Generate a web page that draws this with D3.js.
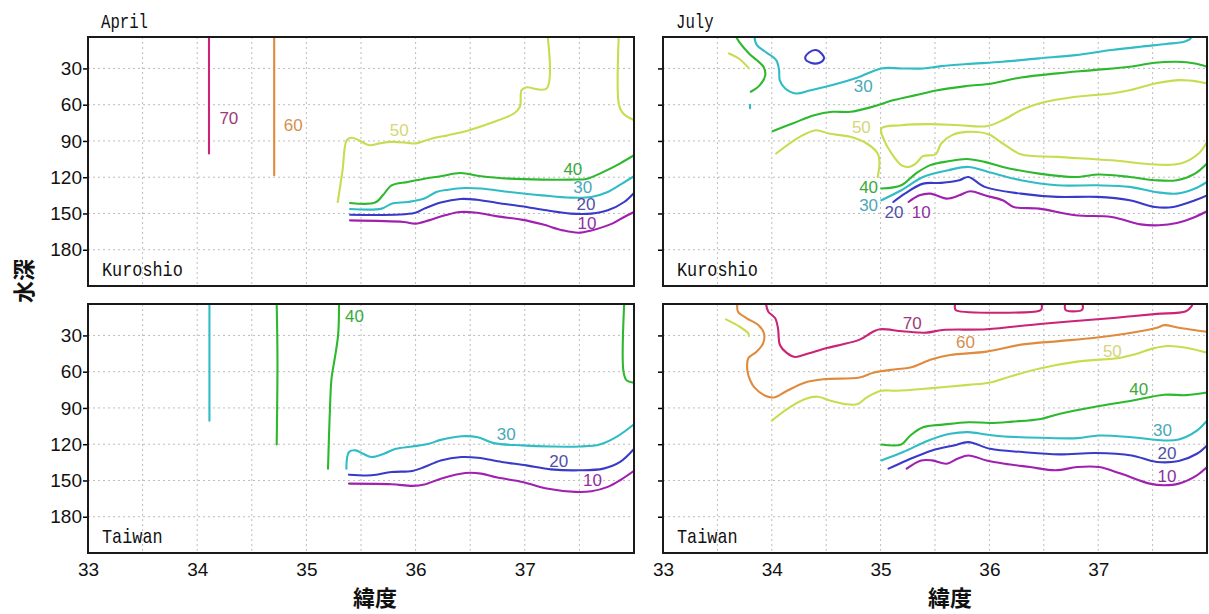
<!DOCTYPE html>
<html>
<head>
<meta charset="utf-8">
<script src="https://cdn.jsdelivr.net/npm/d3@7"></script>
<style>
  body { margin: 0; background: #fff; }
  svg { display: block; }
</style>
</head>
<body>
<svg id="chart" width="1209" height="614"></svg>
<script>
// ---- axes ----
const latDomain = [33, 38];
const depthDomain = [4, 210];
const latTicks = [33, 34, 35, 36, 37];
const depthTicks = [30, 60, 90, 120, 150, 180];
const gridLats = [33.5, 34, 34.5, 35, 35.5, 36, 36.5, 37, 37.5];

// ---- contour levels ----
const levels = [70, 60, 50, 40, 30, 20, 10];

// ---- April, Kuroshio: [latitude, depth] ----
const ak70 = [[34.108, 4], [34.108, 100.4]];
const ak60 = [[34.705, 4], [34.705, 118.4]];
const ak50a = [[35.287, 140.5], [35.33, 115], [35.37, 89.4], [35.414, 87.4], [35.48, 89.4], [35.575, 93.5], [35.67, 92], [35.78, 90.8], [35.93, 91.6], [36.0, 92.1], [36.15, 88], [36.30, 85.2], [36.49, 81.1], [36.675, 75.6], [36.90, 67.3], [36.955, 61.8], [36.97, 48], [37.01, 45.7], [37.2, 46.6], [37.21, 4]];
const ak50b = [[37.86, 4], [37.86, 59], [37.89, 66], [37.93, 69.5], [38.0, 72.8]];
const ak40 = [[35.40, 141.3], [35.63, 141], [35.70, 135], [35.78, 126.7], [35.93, 123.9], [36.08, 121.2], [36.23, 119.2], [36.41, 116.5], [36.60, 119.2], [36.86, 121.2], [37.16, 122], [37.42, 122], [37.57, 121.2], [37.72, 115.6], [37.87, 108.7], [38.0, 101.8]];
const ak30 = [[35.40, 146.3], [35.69, 146], [35.78, 141.9], [35.93, 140.5], [36.08, 137.7], [36.19, 132.2], [36.30, 130.3], [36.45, 128.9], [36.60, 129.4], [36.86, 132.2], [37.16, 135], [37.42, 136.9], [37.61, 136.3], [37.76, 132.2], [37.89, 125.3], [38.0, 119.2]];
const ak20 = [[35.40, 151], [35.99, 149.6], [36.08, 146], [36.23, 141], [36.41, 138], [36.56, 138.6], [36.75, 141.3], [36.97, 144], [37.20, 147.4], [37.42, 150.1], [37.61, 150.1], [37.76, 147.4], [37.91, 140.5], [38.0, 133]];
const ak10 = [[35.40, 155.7], [35.89, 157], [36.0, 158.4], [36.12, 155.7], [36.27, 151.5], [36.41, 148.8], [36.56, 149.4], [36.75, 152.4], [36.97, 155.1], [37.16, 159], [37.35, 164], [37.49, 165.9], [37.61, 164], [37.80, 158.4], [37.91, 152.9], [38.0, 148.8]];
const akLabels = [[34.29, 71.4, 70], [34.88, 77, 60], [35.85, 81.6, 50], [37.44, 113.5, 40], [37.53, 128.6, 30], [37.56, 142.4, 20], [37.57, 157.9, 10]];

// ---- July, Kuroshio ----
const jk50a = [[33.607, 17.6], [33.70, 22], [33.79, 30]];
const jk40a = [[33.673, 4], [33.70, 8], [33.79, 17.6], [33.923, 28.6], [33.94, 35.5], [33.89, 43.8], [33.807, 49.3]];
const jk30tick = [[33.80, 60], [33.80, 63]];
const jk30a = [[33.84, 4], [33.863, 10.7], [33.94, 16.2], [34.04, 23.1], [34.067, 31.4], [34.073, 39.7], [34.123, 46.6], [34.223, 50.7], [34.357, 48], [34.557, 43.8], [34.79, 37.5], [35.007, 30], [35.19, 30], [35.39, 30], [35.557, 28.1], [35.79, 26.4], [36.123, 24.5], [36.457, 21.7], [36.79, 19], [37.123, 14.8], [37.39, 12], [37.623, 9.8], [37.79, 7.9], [37.84, 6], [37.857, 4]];
const jk20loop = [[34.307, 21.7], [34.34, 17], [34.407, 14.8], [34.457, 17.6], [34.48, 21.7], [34.44, 25.3], [34.357, 25.3]];
const jk40b = [[34.007, 81.9], [34.19, 75.6], [34.39, 68.7], [34.557, 65.9], [34.723, 65.9], [34.923, 61.8], [35.123, 56.2], [35.323, 52.1], [35.523, 48], [35.79, 44.6], [36.023, 42.4], [36.29, 37.5], [36.623, 34.1], [36.957, 31.4], [37.29, 28.6], [37.523, 25.3], [37.723, 24.5], [37.89, 25.9], [38.0, 28.6]];
const jk50b = [[34.04, 100.4], [34.257, 86.6], [34.407, 81.1], [34.523, 83.9], [34.723, 86.6], [34.873, 92.1], [34.973, 100.4], [34.99, 108], [34.973, 119.8]];
const jk50c = [[38.0, 90.8], [37.923, 100.4], [37.757, 108.7], [37.523, 109.5], [37.123, 106], [36.623, 103.2], [36.29, 101], [36.123, 92.1], [35.99, 84.4], [35.79, 82.5], [35.657, 85.2], [35.557, 92.1], [35.507, 101], [35.39, 102.6], [35.323, 108.7], [35.257, 111.5], [35.19, 110], [35.123, 103.2], [35.04, 90.8], [35.007, 79.7], [35.19, 77], [35.457, 76.1], [35.723, 77], [35.973, 77.8], [36.123, 72.8], [36.29, 64.5], [36.457, 59], [36.79, 53.5], [37.123, 50.7], [37.29, 48], [37.523, 42.4], [37.757, 39.7], [37.923, 41], [38.0, 42.4]];
const jk40c = [[35.007, 129.4], [35.19, 126.7], [35.323, 117], [35.457, 110], [35.623, 106.8], [35.79, 104.9], [35.957, 107.3], [36.123, 111.5], [36.457, 117], [36.79, 119.8], [37.007, 117.8], [37.29, 119.8], [37.523, 122.5], [37.723, 122.5], [37.89, 117], [38.0, 108.7]];
const jk30b = [[35.007, 139.1], [35.19, 130.8], [35.39, 119.8], [35.623, 114.2], [35.807, 111.5], [35.99, 115.6], [36.29, 122.5], [36.623, 126.7], [36.99, 126.7], [37.29, 128], [37.523, 132.2], [37.723, 133.6], [37.89, 129.4], [38.0, 123.9]];
const jk20 = [[35.117, 140.5], [35.223, 133.6], [35.39, 125.3], [35.557, 124.7], [35.723, 122.5], [35.807, 119.8], [35.957, 128], [36.29, 133.6], [36.623, 136.3], [36.99, 136.3], [37.29, 139.1], [37.523, 144.6], [37.69, 144.6], [37.89, 139.1], [38.0, 135]];
const jk10 = [[35.257, 140.5], [35.357, 135], [35.457, 133.6], [35.607, 137.7], [35.723, 135], [35.823, 131.6], [35.957, 135], [36.123, 139.1], [36.223, 144.6], [36.457, 146], [36.79, 151.5], [37.123, 152.9], [37.39, 159], [37.557, 159.8], [37.723, 157.9], [37.89, 152.9], [38.0, 148.2]];
const jkLabels = [[34.84, 45.3, 30], [34.823, 79.2, 50], [34.89, 128.6, 40], [34.89, 143.2, 30], [35.123, 148.8, 20], [35.373, 148.8, 10]];

// ---- April, Taiwan ----
const at30v = [[34.112, 4], [34.112, 100.5]];
const at40v1 = [[34.728, 4], [34.735, 50], [34.728, 120.2]];
const at40v2 = [[35.299, 4], [35.291, 29.2], [35.261, 48.4], [35.231, 64.8], [35.216, 89.5], [35.198, 140.2]];
const at40v3 = [[37.91, 4], [37.903, 59.3], [37.93, 67], [37.985, 68.9], [38.0, 69]];
const at30 = [[35.366, 140.2], [35.39, 126.5], [35.45, 125.1], [35.52, 127.9], [35.597, 130.6], [35.709, 127.9], [35.82, 123.8], [35.97, 121.9], [36.12, 119.7], [36.23, 116.4], [36.42, 113.4], [36.57, 114.2], [36.716, 119.1], [36.978, 121], [37.24, 121.9], [37.50, 121.9], [37.687, 120.2], [37.836, 114.2], [38.0, 103.5]];
const at20 = [[35.39, 145.2], [35.597, 145.7], [35.78, 143], [35.97, 142.1], [36.08, 138.9], [36.23, 133.4], [36.42, 130.6], [36.57, 131.2], [36.79, 134.7], [37.015, 137.5], [37.24, 140.8], [37.50, 141.6], [37.72, 140.2], [37.873, 134.7], [38.0, 124]];
const at10 = [[35.39, 152.6], [35.78, 153.1], [35.97, 154.5], [36.08, 153.4], [36.23, 148.5], [36.455, 143.8], [36.60, 144.3], [36.75, 147.6], [36.978, 151.2], [37.20, 156.7], [37.46, 159.4], [37.61, 158.9], [37.76, 155.3], [37.873, 149.8], [38.0, 142]];
const atLabels = [[35.44, 14.1, 40], [36.83, 112, 30], [37.31, 133.9, 20], [37.62, 150.4, 10]];

// ---- July, Taiwan ----
const jt70a = [[33.947, 4], [33.968, 10.4], [34.03, 15.6], [34.057, 24.1], [34.075, 37.9], [34.137, 44.5], [34.213, 47.8], [34.32, 45.4], [34.505, 40.4], [34.627, 37.9], [34.807, 33.5], [34.93, 26.9], [34.995, 24.9], [35.2, 26.5], [35.42, 27.7], [35.57, 25.5], [35.975, 24.9], [36.465, 20.5], [37.11, 15.8], [37.307, 14.1], [37.54, 12.2], [37.807, 10], [37.857, 5.9], [37.867, 4]];
const jt70b = [[35.684, 4], [35.684, 8], [35.70, 9.5], [36.46, 9.5], [36.48, 8], [36.48, 4]];
const jt70c = [[36.695, 4], [36.695, 8], [36.71, 9.5], [36.84, 9.5], [36.857, 8], [36.857, 4]];
const jt60 = [[33.683, 4], [33.69, 10.4], [33.77, 15.8], [33.876, 21.4], [33.928, 28.2], [33.92, 36.5], [33.86, 43.5], [33.784, 48.9], [33.775, 58.6], [33.80, 66.9], [33.84, 73], [33.94, 79.9], [34.023, 81.3], [34.14, 75.8], [34.307, 68.9], [34.473, 66.2], [34.807, 64.8], [34.94, 60.7], [35.14, 58], [35.273, 56.6], [35.473, 49.7], [35.64, 46.2], [35.973, 43.4], [36.307, 37.4], [36.64, 34.7], [36.973, 31.9], [37.307, 27.8], [37.54, 23.7], [37.607, 21.5], [37.74, 23.7], [37.907, 25.9], [38.0, 27]];
const jt50a = [[33.579, 16.7], [33.70, 22.5], [33.784, 28.3], [33.79, 30.5]];
const jt50b = [[34.0, 100.5], [34.14, 90.9], [34.307, 82.6], [34.423, 80.7], [34.54, 84], [34.673, 86.8], [34.79, 86.8], [34.873, 81.3], [35.007, 75.8], [35.14, 75.8], [35.473, 73.6], [35.807, 70.9], [36.007, 68.9], [36.207, 63.5], [36.473, 57.1], [36.807, 51.7], [37.207, 48.4], [37.34, 45.6], [37.507, 40.7], [37.64, 38.8], [37.807, 40.2], [38.0, 44.3]];
const jt40 = [[35.007, 120.2], [35.19, 120.2], [35.273, 112.8], [35.39, 106], [35.573, 103.8], [35.807, 101.8], [36.007, 102.4], [36.207, 101.3], [36.473, 99.1], [36.64, 95], [36.973, 89], [37.307, 84], [37.607, 79.1], [37.807, 79.4], [38.0, 77.2]];
const jt30 = [[35.007, 133.4], [35.207, 126.5], [35.44, 116.9], [35.64, 111.4], [35.807, 110], [35.973, 112], [36.14, 113.6], [36.473, 114.7], [36.807, 115], [37.007, 112.8], [37.307, 114.2], [37.607, 116.9], [37.74, 116.1], [37.907, 108.7], [38.0, 100.5]];
const jt20 = [[35.073, 140.2], [35.24, 133.4], [35.473, 125.1], [35.673, 121], [35.807, 118.3], [36.007, 123.8], [36.307, 126.5], [36.64, 128.4], [36.973, 127.3], [37.307, 129.3], [37.54, 134.7], [37.74, 133.9], [37.907, 127.9], [38.0, 121]];
const jt10 = [[35.24, 140.2], [35.373, 133.4], [35.473, 133.4], [35.607, 136.1], [35.707, 132], [35.807, 129.3], [35.973, 133.4], [36.14, 136.1], [36.373, 138.9], [36.607, 141.6], [36.807, 138.9], [37.007, 138.9], [37.207, 144.3], [37.473, 152.6], [37.607, 153.9], [37.74, 152.6], [37.907, 145.7], [38.0, 138.9]];
const jtLabels = [[35.29, 20.5, 70], [35.78, 36, 60], [37.13, 42.9, 50], [37.373, 74.7, 40], [37.59, 108.7, 30], [37.633, 127.3, 20], [37.633, 147.1, 10]];

// ---- colours per contour level ----
const lineColor = d3.scaleOrdinal().domain(levels)
  .range(["#cc2277", "#e08a3c", "#c8dc50", "#2db82d", "#2fbcc4", "#3a3ac8", "#a020b0"]);
const labelColor = d3.scaleOrdinal().domain(levels)
  .range(["#9a3a78", "#d49050", "#d6d678", "#3aaa3a", "#4aa8b8", "#5050a8", "#9030a0"]);

// ---- panels ----
const panels = [
  { month: "April", region: "Kuroshio", left: 88, right: 634, top: 37, bottom: 286, yLabels: true, xLabels: false,
    lines: [[70, ak70], [60, ak60], [50, ak50a], [50, ak50b], [40, ak40], [30, ak30], [20, ak20], [10, ak10]],
    loops: [], labels: akLabels },
  { month: "July", region: "Kuroshio", left: 663, right: 1207, top: 37, bottom: 286, yLabels: false, xLabels: false,
    lines: [[50, jk50a], [40, jk40a], [30, jk30tick], [30, jk30a], [40, jk40b], [50, jk50b], [50, jk50c], [40, jk40c], [30, jk30b], [20, jk20], [10, jk10]],
    loops: [[20, jk20loop]], labels: jkLabels },
  { month: null, region: "Taiwan", left: 88, right: 634, top: 304, bottom: 553, yLabels: true, xLabels: true,
    lines: [[30, at30v], [40, at40v1], [40, at40v2], [40, at40v3], [30, at30], [20, at20], [10, at10]],
    loops: [], labels: atLabels },
  { month: null, region: "Taiwan", left: 663, right: 1207, top: 304, bottom: 553, yLabels: false, xLabels: true,
    lines: [[70, jt70a], [70, jt70b], [70, jt70c], [60, jt60], [50, jt50a], [50, jt50b], [40, jt40], [30, jt30], [20, jt20], [10, jt10]],
    loops: [], labels: jtLabels }
];

const svg = d3.select("#chart");
const monoFont = "'Liberation Mono', 'DejaVu Sans Mono', monospace";
const tickFont = "'Liberation Sans', Arial, sans-serif";
const cjkFont = "'Noto Sans CJK JP', 'Noto Sans CJK SC', sans-serif";

panels.forEach((p, i) => {
  const x = d3.scaleLinear().domain(latDomain).range([p.left, p.right]);
  const y = d3.scaleLinear().domain(depthDomain).range([p.top, p.bottom]);
  const g = svg.append("g");

  const clipId = "clip" + i;
  svg.append("clipPath").attr("id", clipId)
    .append("rect").attr("x", p.left).attr("y", p.top)
    .attr("width", p.right - p.left).attr("height", p.bottom - p.top);

  // dotted grid
  const grid = g.append("g").attr("stroke", "#bdbdbd").attr("stroke-width", 1).attr("stroke-dasharray", "2,3");
  grid.selectAll("line.v").data(gridLats).join("line").attr("class", "v")
    .attr("x1", d => x(d)).attr("x2", d => x(d)).attr("y1", p.top).attr("y2", p.bottom);
  grid.selectAll("line.h").data(depthTicks).join("line").attr("class", "h")
    .attr("x1", p.left).attr("x2", p.right).attr("y1", d => y(d)).attr("y2", d => y(d));

  // contour lines
  const line = d3.line().x(d => x(d[0])).y(d => y(d[1])).curve(d3.curveCatmullRom.alpha(0.5));
  const loop = d3.line().x(d => x(d[0])).y(d => y(d[1])).curve(d3.curveCatmullRomClosed.alpha(0.5));
  const cg = g.append("g").attr("clip-path", `url(#${clipId})`).attr("fill", "none")
    .attr("stroke-width", 2.1).attr("stroke-linejoin", "round").attr("stroke-linecap", "round");
  cg.selectAll("path.c").data(p.lines).join("path").attr("class", "c")
    .attr("stroke", d => lineColor(d[0])).attr("d", d => line(d[1]));
  cg.selectAll("path.l").data(p.loops).join("path").attr("class", "l")
    .attr("stroke", d => lineColor(d[0])).attr("d", d => loop(d[1]));

  // contour labels
  g.selectAll("text.lab").data(p.labels).join("text").attr("class", "lab")
    .attr("x", d => x(d[0])).attr("y", d => y(d[1]))
    .attr("text-anchor", "middle").attr("dominant-baseline", "central")
    .attr("font-family", tickFont).attr("font-size", 17)
    .attr("fill", d => labelColor(d[2])).text(d => d[2]);

  // y axis
  const yAxis = d3.axisLeft(y).tickValues(depthTicks).tickSize(5).tickPadding(1)
    .tickFormat(p.yLabels ? d3.format("d") : () => "");
  const ya = g.append("g").attr("transform", `translate(${p.left},0)`).call(yAxis);
  ya.select(".domain").remove();
  ya.selectAll(".tick line").attr("stroke", "#000").attr("stroke-width", 1.5);
  ya.selectAll(".tick text").attr("font-family", tickFont).attr("font-size", 19).attr("fill", "#111");

  // x axis labels
  if (p.xLabels) {
    const xAxis = d3.axisBottom(x).tickValues(latTicks).tickSize(0).tickPadding(10).tickFormat(d3.format("d"));
    const xa = g.append("g").attr("transform", `translate(0,${p.bottom})`).call(xAxis);
    xa.select(".domain").remove();
    xa.selectAll(".tick text").attr("font-family", tickFont).attr("font-size", 19).attr("fill", "#111");
    g.append("text").attr("x", p.left + 287).attr("y", 596)
      .attr("text-anchor", "middle").attr("dominant-baseline", "central")
      .attr("font-family", cjkFont).attr("font-weight", "bold").attr("font-size", 22)
      .attr("fill", "#111").text("緯度");
  }

  // frame
  g.append("rect").attr("x", p.left).attr("y", p.top)
    .attr("width", p.right - p.left).attr("height", p.bottom - p.top)
    .attr("fill", "none").attr("stroke", "#1a1a1a").attr("stroke-width", 2);

  // month title and region tag
  if (p.month) {
    g.append("text").attr("x", p.left + 13).attr("y", p.top - 9)
      .attr("font-family", monoFont).attr("font-size", 21).attr("fill", "#111")
      .attr("textLength", p.month.length * 9.4).attr("lengthAdjust", "spacingAndGlyphs")
      .text(p.month);
  }
  g.append("text").attr("x", p.left + 14).attr("y", p.bottom - 10)
    .attr("font-family", monoFont).attr("font-size", 21).attr("fill", "#111")
    .attr("textLength", p.region.length * 10.1).attr("lengthAdjust", "spacingAndGlyphs")
    .text(p.region);
});

// shared depth title
svg.append("text").attr("transform", "translate(22,281) rotate(-90)")
  .attr("text-anchor", "middle").attr("dominant-baseline", "central")
  .attr("font-family", cjkFont).attr("font-weight", "bold").attr("font-size", 22)
  .attr("fill", "#111").text("水深");
</script>
</body>
</html>
